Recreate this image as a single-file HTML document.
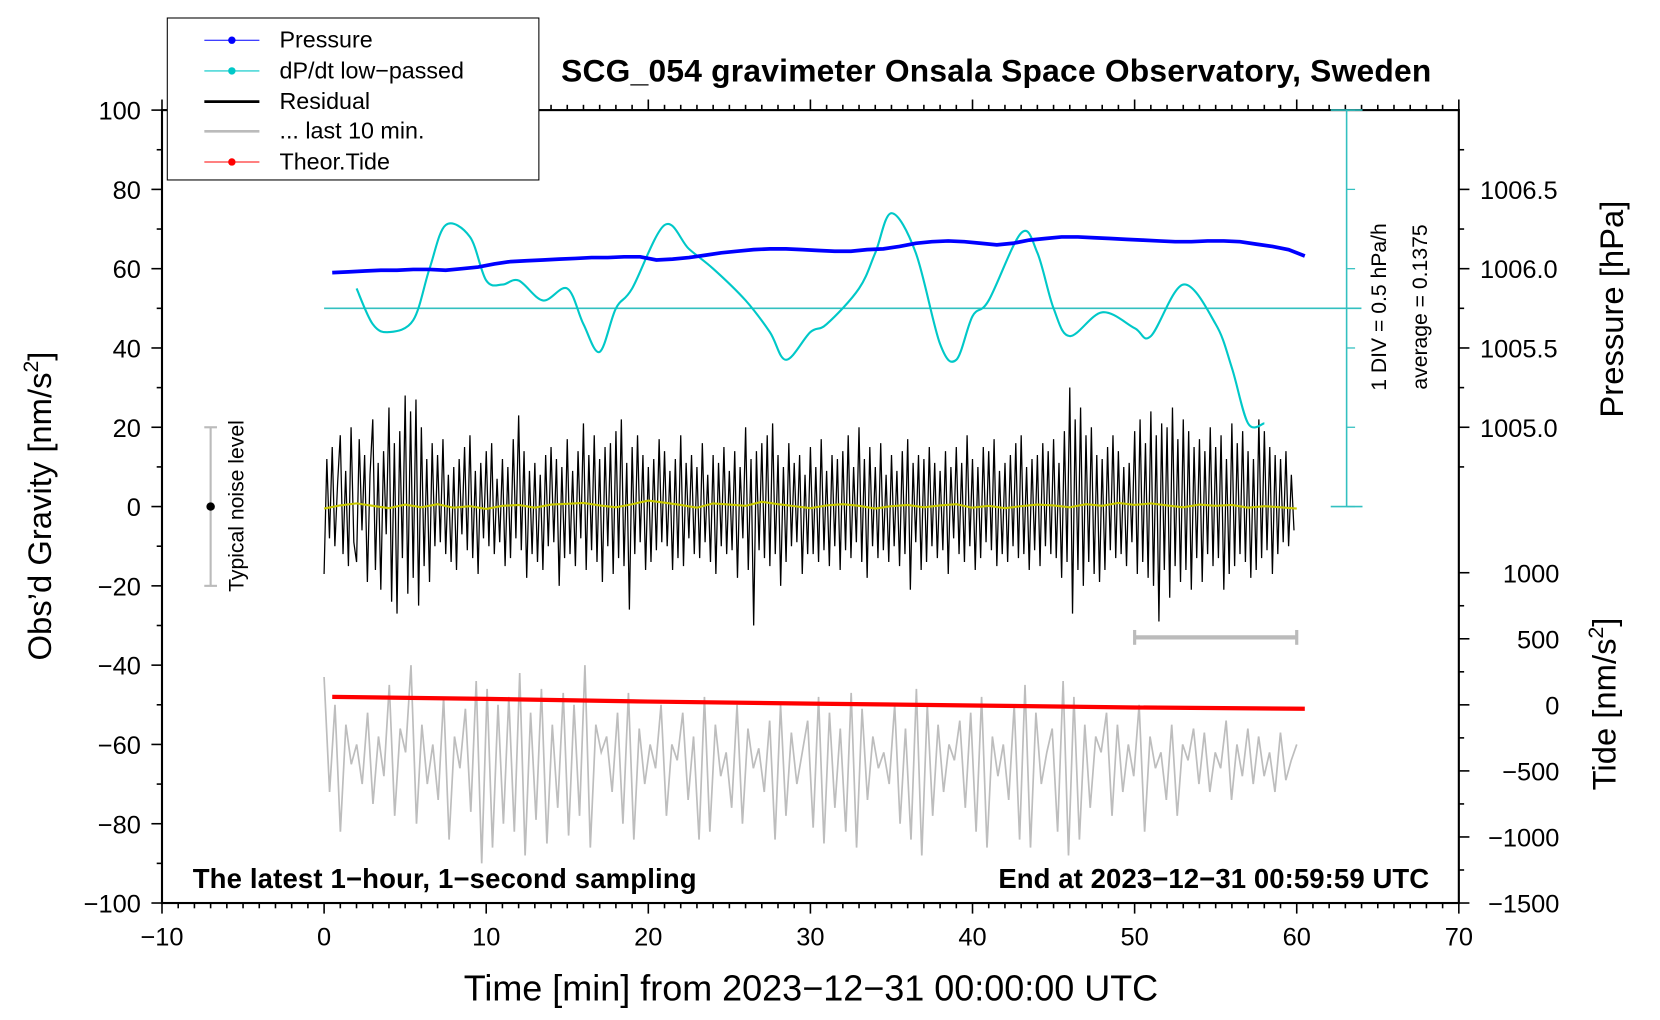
<!DOCTYPE html>
<html><head><meta charset="utf-8"><style>
html,body{margin:0;padding:0;background:#fff}
svg{display:block;font-family:"Liberation Sans",sans-serif}
</style></head><body>
<svg id="c" width="1660" height="1020" viewBox="0 0 1568 963.5" xmlns="http://www.w3.org/2000/svg"></svg>
<script>
// ---- data ----
const xTicks=[-10,0,10,20,30,40,50,60,70];
const yTicks=[100,80,60,40,20,0,-20,-40,-60,-80,-100];
const pTicks=[1006.5,1006.0,1005.5,1005.0];
const tideTicks=[1000,500,0,-500,-1000,-1500];
const pressure=[1005.975,1005.98,1005.985,1005.99,1005.99,1005.995,1005.995,1005.99,1006.0,1006.01,1006.03,1006.045,1006.05,1006.055,1006.06,1006.065,1006.07,1006.07,1006.075,1006.075,1006.055,1006.06,1006.07,1006.085,1006.1,1006.11,1006.12,1006.125,1006.125,1006.12,1006.115,1006.11,1006.11,1006.12,1006.125,1006.14,1006.16,1006.17,1006.175,1006.17,1006.16,1006.15,1006.16,1006.18,1006.19,1006.2,1006.2,1006.195,1006.19,1006.185,1006.18,1006.175,1006.17,1006.17,1006.175,1006.175,1006.17,1006.155,1006.14,1006.12,1006.08];
const dpTime=[2,3,4,5.5,6.5,7.5,9,10,11,12,13.5,15,16,17,18,19,21,22.5,24,26,27.5,28.5,30,31,33,34,35,36.5,38,39,40,41,43,44,45,46,48,50,51,53,55,56,57,58];
const dpValue=[0.2625,0.0375,-0.0125,0.0625,0.3875,0.6625,0.5875,0.3125,0.2875,0.3125,0.1875,0.2625,0.0375,-0.1375,0.1375,0.2625,0.6625,0.5125,0.3875,0.1875,-0.0125,-0.1875,-0.0125,0.0375,0.2625,0.4875,0.7375,0.4875,-0.0875,-0.1875,0.0875,0.1875,0.6125,0.4875,0.1375,-0.0375,0.1125,0.0125,-0.0375,0.2875,0.0375,-0.2375,-0.5875,-0.5875];
const dpAverage=0.1375;
const residual=[-17,12,-8,15,-10,6,18,-12,9,-15,20,-9,-14,17,-6,13,-19,8,22,-16,11,-21,14,-7,25,-24,16,-27,19,-13,28,-22,24,-18,27,-25,20,-15,12,-19,16,-10,13,-9,17,-12,8,-14,10,-16,12,-7,15,-11,18,-13,9,-17,11,-8,14,-10,16,-12,7,-9,12,-15,10,-13,17,-8,23,-11,14,-18,9,-12,11,-14,8,-16,13,-10,15,-9,12,-20,10,-13,17,-12,9,-15,14,-8,21,-16,13,-11,18,-14,12,-19,15,-10,16,-17,19,-13,22,-15,11,-26,15,-12,18,-9,13,-16,10,-14,12,-11,17,-9,14,-10,9,-16,12,-13,18,-15,11,-8,13,-12,10,-13,16,-9,8,-14,13,-17,11,-10,15,-12,9,-11,14,-18,10,-8,20,-16,12,-30,14,-11,16,-13,18,-15,21,-12,13,-20,10,-14,16,-10,11,-9,13,-17,8,-12,15,-12,10,-14,17,-11,9,-15,13,-10,12,-16,14,-11,18,-13,10,-9,20,-14,12,-18,15,-10,10,-13,16,-11,8,-14,13,-10,9,-15,14,-12,17,-21,11,-9,13,-16,12,-14,15,-10,11,-13,9,-11,14,-17,10,-8,15,-12,11,-14,18,-10,12,-16,10,-13,15,-9,14,-11,17,-15,9,-12,11,-14,13,-10,16,-13,18,-12,10,-16,12,-11,13,-15,16,-10,14,-12,17,-13,11,-18,19,-14,30,-27,22,-16,25,-20,18,-14,20,-17,13,-19,12,-16,15,-11,18,-13,14,-12,10,-15,11,-9,19,-17,22,-14,16,-18,24,-20,18,-29,21,-16,20,-23,25,-15,17,-19,22,-16,19,-21,15,-13,17,-19,14,-12,20,-15,15,-13,18,-21,12,-17,21,-15,16,-12,19,-14,14,-18,12,-16,22,-13,19,-11,15,-17,13,-12,12,-9,14,-10,8,-6];
const lowpassed=[-0.5,0.3,0.8,0.2,-0.4,0.5,-0.2,0.6,-0.3,0.1,-0.6,0.2,0.4,-0.3,0.5,0.7,0.9,0.3,-0.2,0.6,1.5,1.0,0.4,-0.3,0.8,0.5,0.2,1.2,0.6,0.1,-0.4,0.3,0.6,0.2,-0.5,0.1,0.4,-0.2,0.3,0.6,-0.3,0.2,-0.4,0.1,0.5,0.3,-0.2,0.6,0.2,0.9,0.4,0.8,0.3,-0.2,0.5,0.2,0.4,-0.3,0.1,-0.2,-0.5];
const last10=[-43,-72,-50,-82,-55,-65,-60,-70,-52,-75,-58,-68,-45,-78,-56,-62,-40,-80,-55,-70,-60,-74,-48,-84,-58,-66,-51,-77,-44,-90,-46,-86,-50,-80,-48,-82,-42,-88,-52,-79,-46,-85,-55,-76,-47,-83,-50,-78,-40,-86,-55,-62,-58,-72,-52,-80,-47,-84,-56,-70,-60,-66,-50,-78,-60,-64,-52,-74,-58,-84,-48,-82,-55,-68,-62,-76,-50,-80,-56,-66,-61,-72,-54,-84,-50,-78,-57,-70,-62,-54,-81,-48,-85,-52,-76,-56,-82,-47,-86,-51,-74,-58,-66,-62,-70,-50,-80,-56,-84,-46,-88,-50,-78,-55,-72,-60,-64,-54,-76,-52,-82,-48,-86,-58,-68,-60,-74,-50,-84,-45,-86,-52,-70,-62,-56,-82,-44,-88,-48,-84,-55,-76,-58,-62,-52,-78,-55,-72,-60,-68,-50,-82,-58,-66,-62,-74,-55,-78,-60,-64,-56,-70,-57,-72,-62,-66,-54,-74,-60,-68,-56,-70,-58,-68,-62,-72,-57,-69,-64,-60];
const tideTime=[0.5,10,20,30,40,50,60.5];
const tideValue=[60,45,25,10,-5,-20,-30];

// ---- axes ----
const L=153,R=1378,T=104,B=853;
const X=t=>L+(t+10)*(R-L)/80;
const Y=g=>T+(100-g)*(B-T)/200;
const Pg=p=>20+(p-1005)*40;
const Tg=v=>-100+(v+1500)*(Y(-100)-541)/((B-T)/200)/2500;
const Dg=v=>50+(v-dpAverage)*40;

const svg=document.getElementById('c');
const NS='http://www.w3.org/2000/svg';
function mk(tag,attrs,parent){const e=document.createElementNS(NS,tag);for(const k in attrs)e.setAttribute(k,attrs[k]);(parent||svg).appendChild(e);return e;}
function txt(s,attrs){const e=mk('text',attrs);e.textContent=s;return e;}
function path(pts){return pts.map((p,i)=>(i?'L':'M')+p[0].toFixed(1)+' '+p[1].toFixed(1)).join('');}
function smooth(pts){let d='M'+pts[0][0].toFixed(1)+' '+pts[0][1].toFixed(1);
 for(let i=0;i<pts.length-1;i++){const p0=pts[Math.max(0,i-1)],p1=pts[i],p2=pts[i+1],p3=pts[Math.min(pts.length-1,i+2)];
  const c1=[p1[0]+(p2[0]-p0[0])/6,p1[1]+(p2[1]-p0[1])/6],c2=[p2[0]-(p3[0]-p1[0])/6,p2[1]-(p3[1]-p1[1])/6];
  d+='C'+c1.map(v=>v.toFixed(1)).join(' ')+' '+c2.map(v=>v.toFixed(1)).join(' ')+' '+p2[0].toFixed(1)+' '+p2[1].toFixed(1);}
 return d;}

let p=mk('path',{d:path(last10.map((v,i)=>[X(i*60/(last10.length-1)),Y(v)])),fill:'none',stroke:'#bdbdbd','stroke-width':1.6});

p=mk('path',{d:path(residual.map((v,i)=>[X(i/6),Y(v)])),fill:'none',stroke:'#000','stroke-width':1.2});

p=mk('path',{d:path(lowpassed.map((v,i)=>[X(i),Y(v)])),fill:'none',stroke:'#c8c800','stroke-width':2});

p=mk('line',{x1:X(0),x2:1286,y1:Y(Dg(dpAverage)),y2:Y(Dg(dpAverage)),stroke:'#33c0c0','stroke-width':1.5});

p=mk('path',{d:smooth(dpTime.map((t,i)=>[X(t),Y(Dg(dpValue[i]))])),fill:'none',stroke:'#00c8c8','stroke-width':2});

p=mk('path',{d:path(pressure.map((v,i)=>[X(0.5+i*60/(pressure.length-1)),Y(Pg(v))])),fill:'none',stroke:'#0000ff','stroke-width':3.5});

p=mk('path',{d:path(tideTime.map((t,i)=>[X(t),Y(Tg(tideValue[i]))])),fill:'none',stroke:'#ff0000','stroke-width':4});


p=mk('rect',{x:L,y:T,width:R-L,height:B-T,fill:'none',stroke:'#000','stroke-width':2});

for(let t=-10;t<=70;t++){const maj=t%10===0;
 mk('line',{x1:X(t),x2:X(t),y1:B,y2:B+(maj?10:5),stroke:'#000','stroke-width':1.5});
 mk('line',{x1:X(t),x2:X(t),y1:T,y2:T-(maj?10:5),stroke:'#000','stroke-width':1.5});}
xTicks.forEach(t=>{const e=txt(String(t).replace('-','\u2212'),{x:X(t),y:893,'font-size':24,'text-anchor':'middle'});
 });
for(let g=-100;g<=100;g+=10){mk('line',{x1:L,x2:L-(g%20===0?10:5),y1:Y(g),y2:Y(g),stroke:'#000','stroke-width':1.5});}
yTicks.forEach(g=>{const e=txt(String(g).replace('-','\u2212'),{x:133,y:Y(g)+9,'font-size':24,'text-anchor':'end'});
 });
for(let v=1004.75;v<=1006.76;v+=0.25){mk('line',{x1:R,x2:R+(Math.abs((v*2)%1)<0.01?10:5),y1:Y(Pg(v)),y2:Y(Pg(v)),stroke:'#000','stroke-width':1.5});}
pTicks.forEach(v=>{const e=txt(v.toFixed(1),{x:1398,y:Y(Pg(v))+9,'font-size':24});
 });
for(let v=-1500;v<=1000;v+=250){mk('line',{x1:R,x2:R+(v%500===0?10:5),y1:Y(Tg(v)),y2:Y(Tg(v)),stroke:'#000','stroke-width':1.5});}
tideTicks.forEach(v=>{const e=txt(String(v).replace('-','\u2212'),{x:1473,y:Y(Tg(v))+9,'font-size':24,'text-anchor':'end'});
 });
mk('line',{x1:1272,x2:1272,y1:Y(100),y2:Y(0),stroke:'#33c0c0','stroke-width':1.5});
for(let g=0;g<=100;g+=20){mk('line',{x1:1272,x2:1280,y1:Y(g),y2:Y(g),stroke:'#33c0c0','stroke-width':1.2});}
mk('line',{x1:1257,x2:1287,y1:Y(100),y2:Y(100),stroke:'#33c0c0','stroke-width':1.5});
mk('line',{x1:1257,x2:1287,y1:Y(0),y2:Y(0),stroke:'#33c0c0','stroke-width':1.5});
mk('line',{x1:X(-7),x2:X(-7),y1:Y(20),y2:Y(-20),stroke:'#bbb','stroke-width':2});
mk('line',{x1:X(-7)-6,x2:X(-7)+6,y1:Y(20),y2:Y(20),stroke:'#bbb','stroke-width':2});
mk('line',{x1:X(-7)-6,x2:X(-7)+6,y1:Y(-20),y2:Y(-20),stroke:'#bbb','stroke-width':2});
mk('circle',{cx:X(-7),cy:Y(0),r:4,fill:'#000'});
mk('line',{x1:X(50),x2:X(60),y1:Y(-33),y2:Y(-33),stroke:'#bbb','stroke-width':4});
mk('line',{x1:X(50),x2:X(50),y1:Y(-33)-7,y2:Y(-33)+7,stroke:'#bbb','stroke-width':3});
mk('line',{x1:X(60),x2:X(60),y1:Y(-33)-7,y2:Y(-33)+7,stroke:'#bbb','stroke-width':3});
</script>
<svg style="position:absolute;left:0;top:0" width="1660" height="1020" viewBox="0 0 1568 963.5" xmlns="http://www.w3.org/2000/svg" font-family="Liberation Sans, sans-serif">
<g>
<rect x="158" y="17" width="351" height="153" fill="#fff" stroke="#000" stroke-width="1"/>
<line x1="193" x2="245" y1="38" y2="38" stroke="#0000ff"/><circle cx="219" cy="38" r="3.5" fill="#0000ff"/>
<text x="264" y="45" font-size="22">Pressure</text>
<line x1="193" x2="245" y1="67" y2="67" stroke="#00c8c8"/><circle cx="219" cy="67" r="3.5" fill="#00c8c8"/>
<text x="264" y="74" font-size="22">dP/dt low−passed</text>
<line x1="193" x2="245" y1="96" y2="96" stroke="#000" stroke-width="2.5"/>
<text x="264" y="103" font-size="22">Residual</text>
<line x1="193" x2="245" y1="124" y2="124" stroke="#bbb" stroke-width="2.5"/>
<text x="264" y="131" font-size="22">... last 10 min.</text>
<line x1="193" x2="245" y1="153" y2="153" stroke="#ff0000"/><circle cx="219" cy="153" r="3.5" fill="#ff0000"/>
<text x="264" y="160" font-size="22">Theor.Tide</text>
</g>
<text x="941" y="77" font-size="30" font-weight="bold" text-anchor="middle" textLength="822">SCG_054 gravimeter Onsala Space Observatory, Sweden</text>
<text x="182" y="839" font-size="26" font-weight="bold" textLength="476">The latest 1−hour, 1−second sampling</text>
<text x="943" y="839" font-size="26" font-weight="bold" textLength="407">End at 2023−12−31 00:59:59 UTC</text>
<text x="766" y="945" font-size="34" text-anchor="middle" textLength="656">Time [min] from 2023−12−31 00:00:00 UTC</text>
<text transform="translate(48,478) rotate(-90)" font-size="31" text-anchor="middle">Obs’d Gravity [nm/s<tspan font-size="20" dy="-12">2</tspan><tspan dy="12">]</tspan></text>
<text transform="translate(230,478) rotate(-90)" font-size="20" text-anchor="middle">Typical noise level</text>
<text transform="translate(1309,290) rotate(-90)" font-size="20" text-anchor="middle">1 DIV = 0.5 hPa/h</text>
<text transform="translate(1348,290) rotate(-90)" font-size="20" text-anchor="middle">average = 0.1375</text>
<text transform="translate(1533,292) rotate(-90)" font-size="31" text-anchor="middle">Pressure [hPa]</text>
<text transform="translate(1526,665) rotate(-90)" font-size="31" text-anchor="middle">Tide [nm/s<tspan font-size="20" dy="-12">2</tspan><tspan dy="12">]</tspan></text>
</svg>
</body></html>
